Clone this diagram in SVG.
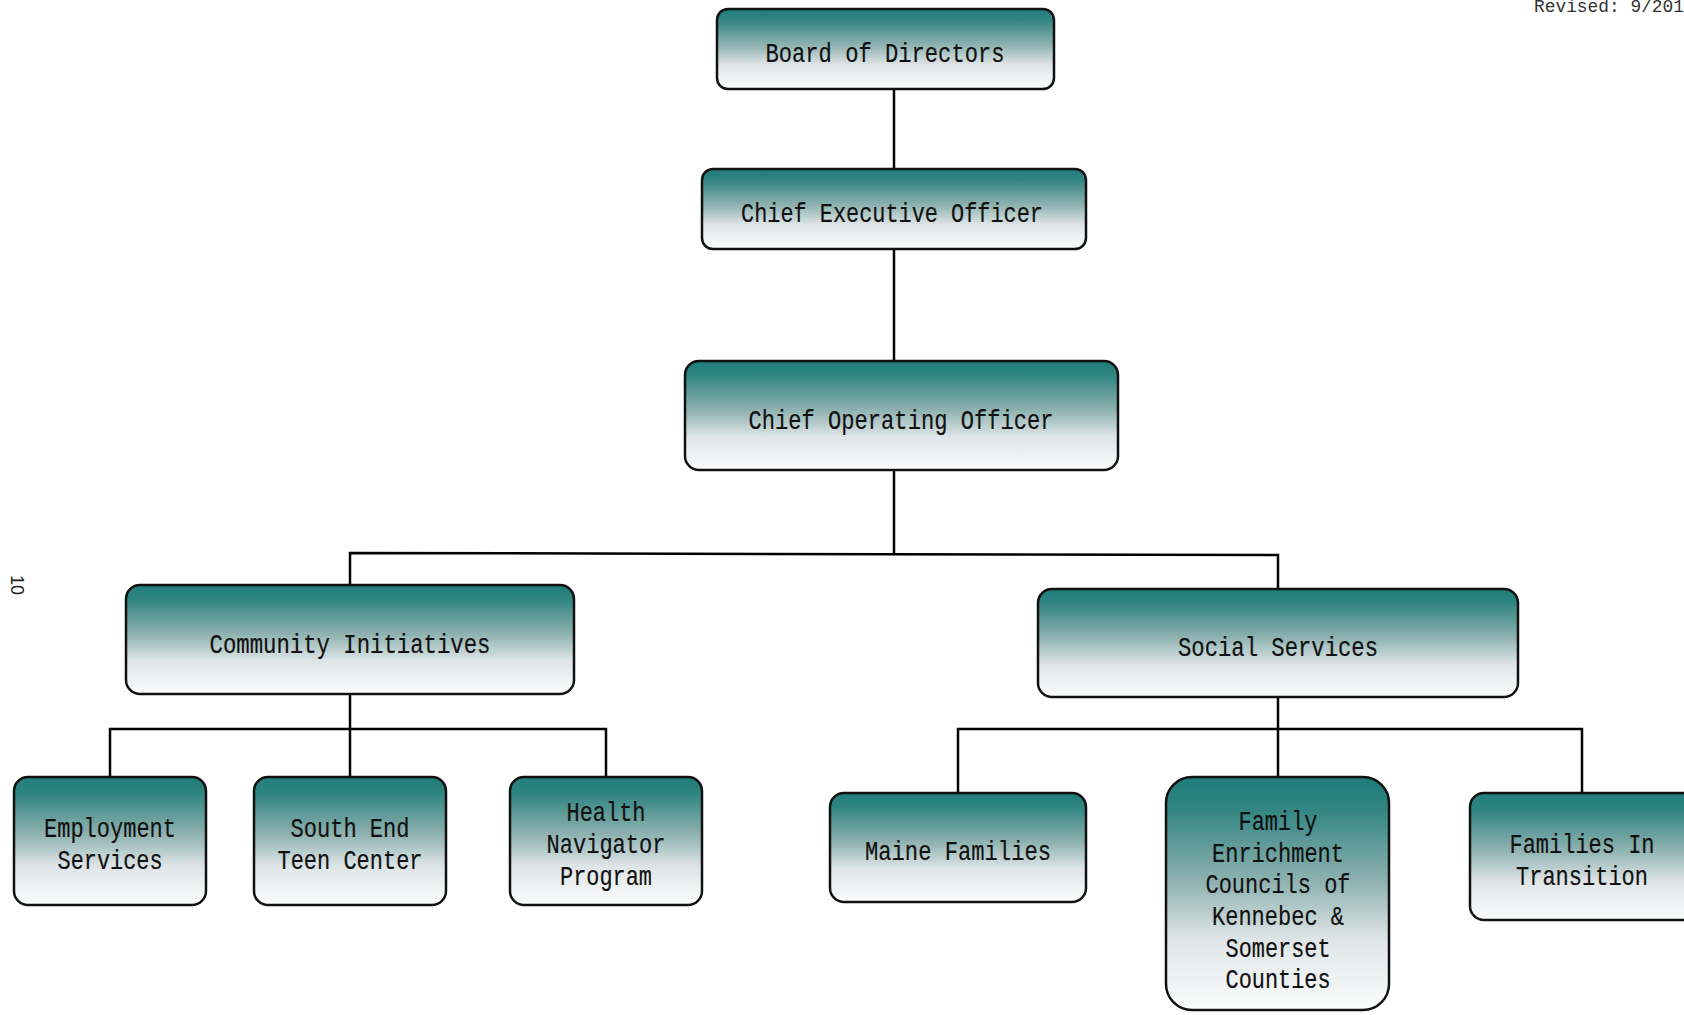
<svg xmlns="http://www.w3.org/2000/svg" width="1684" height="1015" viewBox="0 0 1684 1015">
  <defs>
    <linearGradient id="teal" x1="0" y1="0" x2="0" y2="1">
      <stop offset="0" stop-color="#1f7d7a"/>
      <stop offset="0.12" stop-color="#2d8380"/>
      <stop offset="0.45" stop-color="#8fb2b1"/>
      <stop offset="0.7" stop-color="#dfe5e7"/>
      <stop offset="1" stop-color="#fbfcfc"/>
    </linearGradient>
  </defs>
  <style>
    .box { fill: url(#teal); stroke: #111; stroke-width: 2.5; }
    .lbl { font-family: "Liberation Mono", "DejaVu Sans Mono", monospace; font-size: 28px; fill: #111; stroke: #111; stroke-width: 0.2; text-anchor: middle; }
    .wire { fill: none; stroke: #000; stroke-width: 2.5; }
  </style>
  <rect width="1684" height="1015" fill="#fff"/>

  <!-- page annotations -->
  <text x="1534" y="12" font-family="Liberation Mono, monospace" font-size="19" fill="#333" textLength="150" lengthAdjust="spacingAndGlyphs">Revised: 9/201</text>
  <text transform="translate(11,575) rotate(90)" font-family="Liberation Sans, sans-serif" font-size="18" fill="#222">10</text>

  <!-- connectors -->
  <g id="connectors" class="wire">
    <line x1="894" y1="89" x2="894" y2="169"/>
    <line x1="894" y1="249" x2="894" y2="361"/>
    <line x1="894" y1="470" x2="894" y2="554"/>
    <polyline points="350,585 350,553 1278,555 1278,589"/>
    <line x1="350" y1="694" x2="350" y2="777"/>
    <polyline points="110,777 110,729 606,729 606,777"/>
    <line x1="1278" y1="697" x2="1278" y2="777"/>
    <polyline points="958,793 958,729 1582,729 1582,793"/>
  </g>

  <g id="board">
    <rect class="box" x="717" y="9" width="337" height="80" rx="11"/>
    <text class="lbl" x="885" y="62" textLength="239" lengthAdjust="spacingAndGlyphs">Board of Directors</text>
  </g>
  <g id="ceo">
    <rect class="box" x="702" y="169" width="384" height="80" rx="11"/>
    <text class="lbl" x="892" y="222" textLength="302" lengthAdjust="spacingAndGlyphs">Chief Executive Officer</text>
  </g>
  <g id="coo">
    <rect class="box" x="685" y="361" width="433" height="109" rx="14"/>
    <text class="lbl" x="901" y="429" textLength="305" lengthAdjust="spacingAndGlyphs">Chief Operating Officer</text>
  </g>
  <g id="community">
    <rect class="box" x="126" y="585" width="448" height="109" rx="14"/>
    <text class="lbl" x="350" y="653" textLength="281" lengthAdjust="spacingAndGlyphs">Community Initiatives</text>
  </g>
  <g id="social">
    <rect class="box" x="1038" y="589" width="480" height="108" rx="14"/>
    <text class="lbl" x="1278" y="656" textLength="200" lengthAdjust="spacingAndGlyphs">Social Services</text>
  </g>
  <g id="employment">
    <rect class="box" x="14" y="777" width="192" height="128" rx="14"/>
    <text class="lbl" x="110" y="837" textLength="132" lengthAdjust="spacingAndGlyphs">Employment</text>
    <text class="lbl" x="110" y="869" textLength="105" lengthAdjust="spacingAndGlyphs">Services</text>
  </g>
  <g id="teen-center">
    <rect class="box" x="254" y="777" width="192" height="128" rx="14"/>
    <text class="lbl" x="350" y="837" textLength="119" lengthAdjust="spacingAndGlyphs">South End</text>
    <text class="lbl" x="350" y="869" textLength="145" lengthAdjust="spacingAndGlyphs">Teen Center</text>
  </g>
  <g id="health">
    <rect class="box" x="510" y="777" width="192" height="128" rx="14"/>
    <text class="lbl" x="606" y="821" textLength="79" lengthAdjust="spacingAndGlyphs">Health</text>
    <text class="lbl" x="606" y="853" textLength="119" lengthAdjust="spacingAndGlyphs">Navigator</text>
    <text class="lbl" x="606" y="885" textLength="92" lengthAdjust="spacingAndGlyphs">Program</text>
  </g>
  <g id="maine-families">
    <rect class="box" x="830" y="793" width="256" height="109" rx="14"/>
    <text class="lbl" x="958" y="860" textLength="186" lengthAdjust="spacingAndGlyphs">Maine Families</text>
  </g>
  <g id="family-enrichment">
    <rect class="box" x="1166" y="777" width="223" height="233" rx="26"/>
    <text class="lbl" x="1278" y="830" textLength="79" lengthAdjust="spacingAndGlyphs">Family</text>
    <text class="lbl" x="1278" y="862" textLength="132" lengthAdjust="spacingAndGlyphs">Enrichment</text>
    <text class="lbl" x="1278" y="893" textLength="145" lengthAdjust="spacingAndGlyphs">Councils of</text>
    <text class="lbl" x="1278" y="925" textLength="132" lengthAdjust="spacingAndGlyphs">Kennebec &amp;</text>
    <text class="lbl" x="1278" y="957" textLength="105" lengthAdjust="spacingAndGlyphs">Somerset</text>
    <text class="lbl" x="1278" y="988" textLength="105" lengthAdjust="spacingAndGlyphs">Counties</text>
  </g>
  <g id="families-in-transition">
    <rect class="box" x="1470" y="793" width="228" height="127" rx="14"/>
    <text class="lbl" x="1582" y="853" textLength="145" lengthAdjust="spacingAndGlyphs">Families In</text>
    <text class="lbl" x="1582" y="885" textLength="132" lengthAdjust="spacingAndGlyphs">Transition</text>
  </g>
</svg>
